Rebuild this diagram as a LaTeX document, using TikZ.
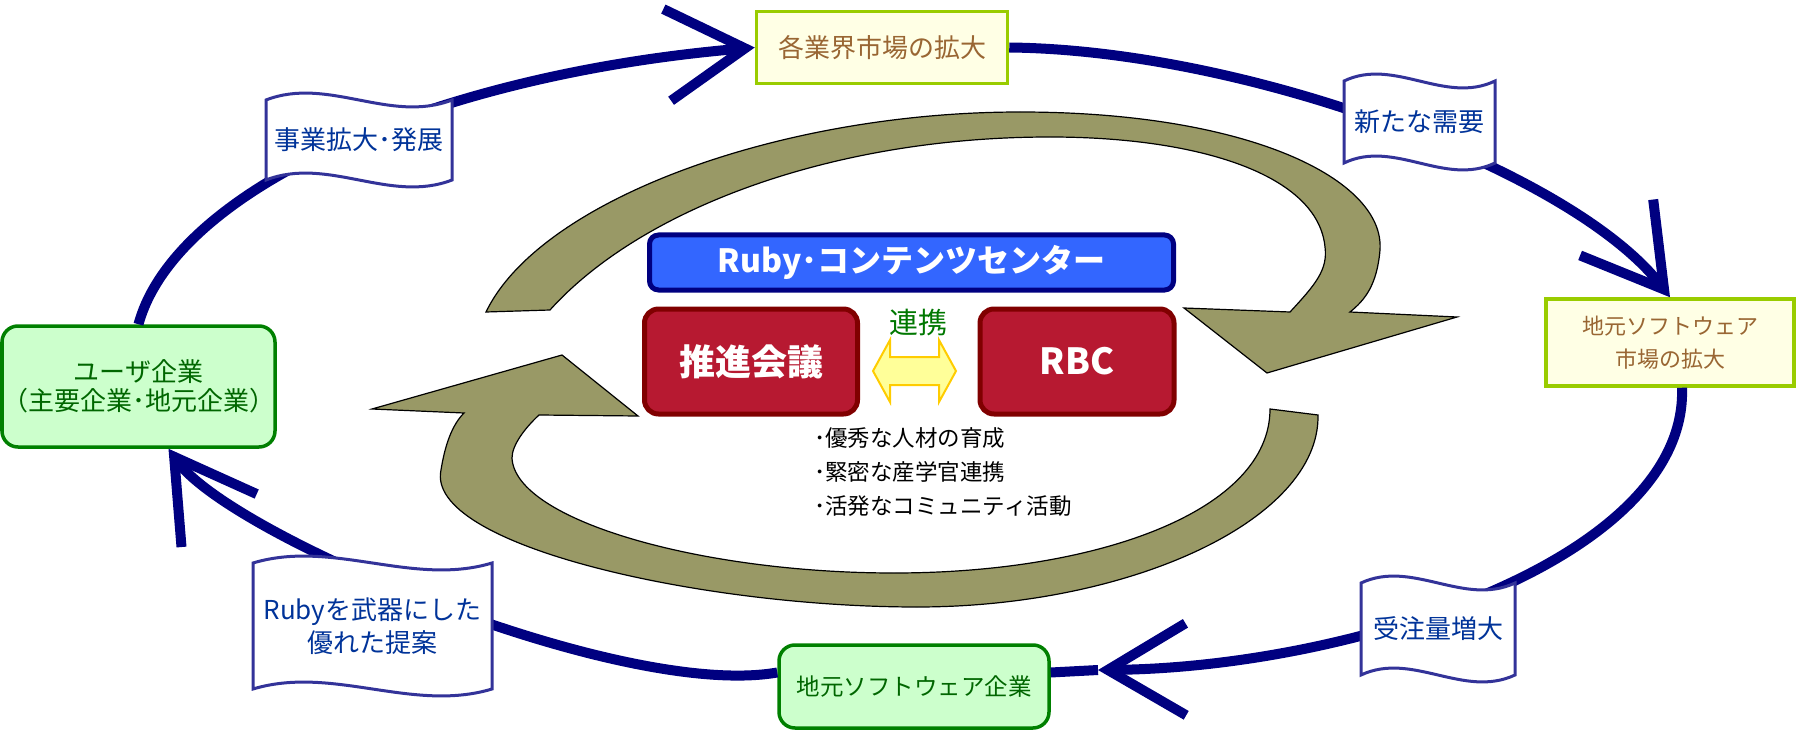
\documentclass[tikz,border=0pt]{standalone}
\usepackage{fontspec}
\setmainfont{Noto Sans CJK JP}
\usetikzlibrary{arrows.meta}
\definecolor{navyc}{HTML}{000080}
\definecolor{flagb}{HTML}{333399}
\definecolor{flagt}{HTML}{003399}
\definecolor{creamf}{HTML}{FFFFE5}
\definecolor{limeb}{HTML}{99CC00}
\definecolor{brownt}{HTML}{996633}
\definecolor{greenf}{HTML}{CCFFCC}
\definecolor{greenb}{HTML}{008000}
\definecolor{greent}{HTML}{006600}
\definecolor{bluef}{HTML}{3366FF}
\definecolor{redf}{HTML}{B71931}
\definecolor{redb}{HTML}{800000}
\definecolor{olivef}{HTML}{999966}
\definecolor{yelf}{HTML}{FFFF99}
\definecolor{yelb}{HTML}{FFCC00}
\definecolor{linkt}{HTML}{007700}
\newcommand{\wflag}[6]{%
  \pgfmathsetmacro\fw{#4-#2}%
  \draw[flagshape] (#2,#3) .. controls ({#2+\fw/3},{#3-24}) and ({#2+2*\fw/3},{#3+24}) .. (#4,#3)
    -- (#4,#5) .. controls ({#2+2*\fw/3},{#5+24}) and ({#2+\fw/3},{#5-24}) .. (#2,#5) -- cycle;
  \node[flagtxt] (#1) at ({(#2+#4)/2},{(#3+#5)/2}) {#6};}
\begin{document}
\begin{tikzpicture}[x=1pt,y=-1pt,
  navy/.style={draw=navyc, line width=10pt},
  barb/.style={-{Straight Barb[length=78pt,width=92pt]}},
  flagshape/.style={draw=flagb, fill=white, line width=3pt},
  flagtxt/.style={text=flagt, font=\fontsize{26}{33}\selectfont, align=center, inner sep=0pt},
  cbox/.style={draw=limeb, fill=creamf, line width=3.5pt, text=brownt, inner sep=0pt},
  gbox/.style={draw=greenb, fill=greenf, line width=3.5pt, rounded corners=16pt, text=greent, inner sep=0pt},
  rbox/.style={draw=redb, fill=redf, line width=5pt, rounded corners=14pt, text=white, inner sep=0pt,
    font=\bfseries\fontsize{36}{40}\selectfont},
  olivearrow/.style={fill=olivef, draw=black, line width=1.2pt}]
\useasboundingbox (0,0) rectangle (1797,730);
% olive cycle arrows
\draw[olivearrow]
  (486,312) .. controls (540,200) and (780,112) .. (1020,112)
  .. controls (1250,112) and (1385,180) .. (1380,250)
  .. controls (1377,285) and (1365,300) .. (1350,312)
  -- (1457,317) -- (1267,373) -- (1184,308) -- (1290,312)
  .. controls (1315,285) and (1328,270) .. (1325,247)
  .. controls (1318,175) and (1200,137) .. (1050,137)
  .. controls (830,137) and (640,210) .. (550,310) -- cycle;
\draw[olivearrow]
  (1318,415) .. controls (1320,520) and (1130,607) .. (917,607)
  .. controls (700,607) and (425,545) .. (441,470)
  .. controls (445,445) and (452,425) .. (464,413)
  -- (372,409) -- (562,355) -- (638,416) -- (539,415)
  .. controls (525,428) and (512,445) .. (512,458)
  .. controls (515,520) and (700,573) .. (894,573)
  .. controls (1100,573) and (1270,510) .. (1270,409) -- cycle;
% centre
\node[draw=navyc, fill=bluef, line width=5pt, rounded corners=9pt, minimum width=524pt, minimum height=55pt,
  inner sep=0pt, text=white, font=\bfseries\fontsize{32}{36}\selectfont] (rcc) at (911.5,262.5) {Ruby･コンテンツセンター};
\node[rbox, minimum width=213pt, minimum height=105pt] (suishin) at (751,361.5) {推進会議};
\node[rbox, minimum width=194pt, minimum height=105pt] (rbc) at (1077,361.5) {RBC};
\node[text=linkt, font=\fontsize{29}{32}\selectfont, inner sep=0pt] (renkei) at (918,323) {連携};
\draw[fill=yelf, draw=yelb, line width=2pt] (873,371) -- (890,340) -- (890,357) -- (939,357) -- (939,340)
  -- (956,371) -- (939,402) -- (939,385) -- (890,385) -- (890,402) -- cycle;
\node[anchor=west, align=left, inner sep=0pt, font=\fontsize{22.5}{34}\selectfont] (bul) at (814,472)
  {･優秀な人材の育成\\･緊密な産学官連携\\･活発なコミュニティ活動};
% outer boxes
\node[cbox, font=\fontsize{26}{30}\selectfont, minimum width=251pt, minimum height=72pt] (topm) at (882,47.5) {各業界市場の拡大};
\node[cbox, font=\fontsize{22}{33}\selectfont, align=center, minimum width=248pt, minimum height=87pt] (rightm) at (1670,342.5) {地元ソフトウェア\\市場の拡大};
\node[gbox, font=\fontsize{26}{29}\selectfont, align=center, minimum width=255pt, minimum height=121pt] (user) at (138.5,386.5) {ユーザ企業\\（主要企業･地元企業）};
\node[gbox, font=\fontsize{23.5}{28}\selectfont, minimum width=270pt, minimum height=83pt] (local) at (914,686.5) {地元ソフトウェア企業};
% navy cycle
\coordinate (tipB) at (1098,670);
\draw[navy, barb] (user.north) .. controls (175,190) and (430,75) .. (topm.west);
\draw[navy, barb] (topm.east) .. controls (1250,50) and (1575,173) .. (rightm.north);
\draw[navy, barb] ([xshift=12pt]rightm.south) .. controls (1688,560) and (1350,668) .. (tipB);
\draw[navy] (tipB) -- ([yshift=14pt]local.east);
\draw[navy, barb] ([yshift=14pt]local.west) .. controls (620,700) and (230,536) .. ([xshift=30pt]user.south);
% flags
\wflag{f1}{266}{100}{452}{180}{事業拡大･発展}
\wflag{f2}{1344}{81}{1495}{163}{新たな需要}
\wflag{f3}{253}{563}{492}{689}{Rubyを武器にした\\優れた提案}
\wflag{f4}{1361}{583}{1515}{675}{受注量増大}
\end{tikzpicture}
\end{document}
